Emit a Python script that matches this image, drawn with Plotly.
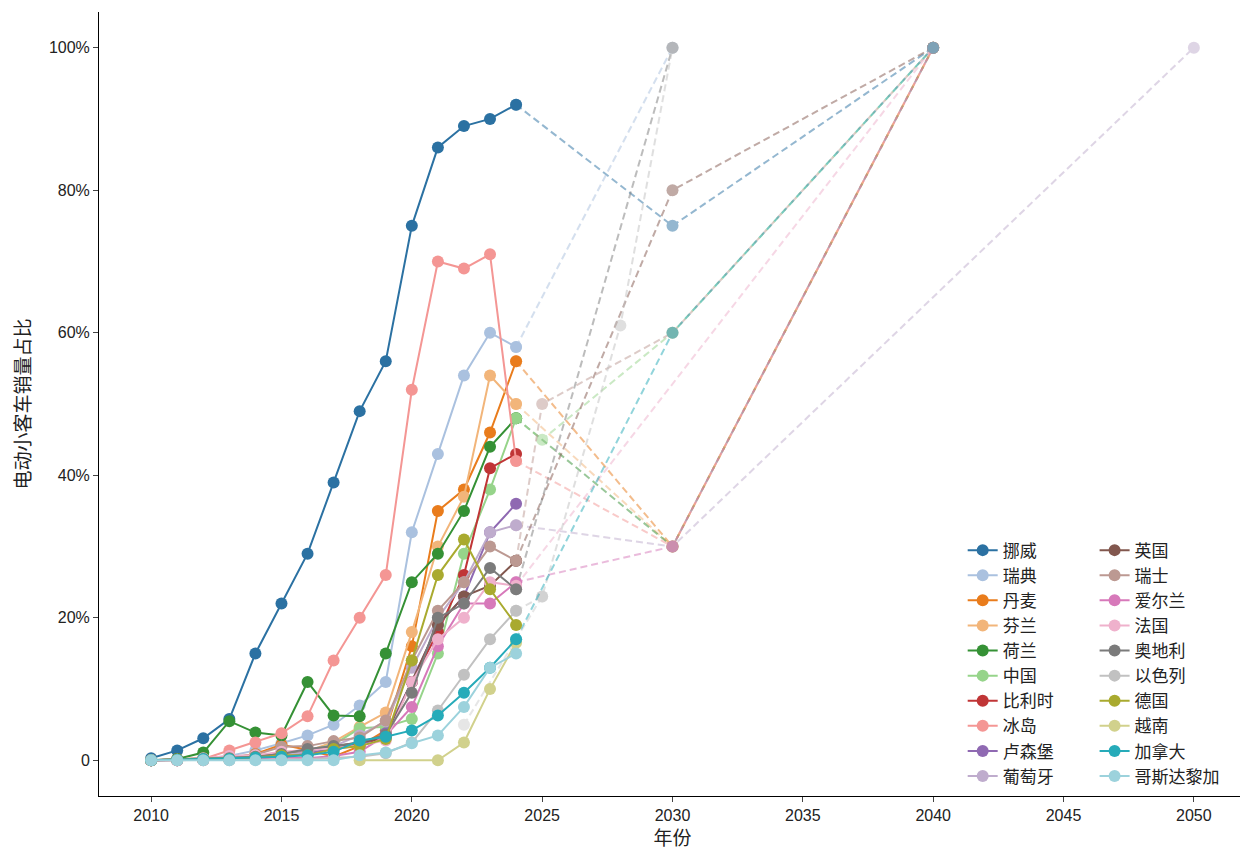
import colorsys
import plotly.graph_objects as go

years = list(range(2010, 2025))

countries = ["挪威", "瑞典", "丹麦", "芬兰", "荷兰", "中国", "比利时", "冰岛", "卢森堡", "葡萄牙",
             "英国", "瑞士", "爱尔兰", "法国", "奥地利", "以色列", "德国", "越南", "加拿大", "哥斯达黎加"]

base_colors = ["#1f77b4", "#aec7e8", "#ff7f0e", "#ffbb78", "#2ca02c", "#98df8a", "#d62728", "#ff9896",
               "#9467bd", "#c5b0d5", "#8c564b", "#c49c94", "#e377c2", "#f7b6d2", "#7f7f7f", "#c7c7c7",
               "#bcbd22", "#dbdb8d", "#17becf", "#9edae5"]

# actual EV share of new passenger car sales (%), 2010-2024
norway      = [0.3, 1.4, 3.1, 5.8, 15, 22, 29, 39, 49, 56, 75, 86, 89, 90, 92]
sweden      = [0, 0.1, 0.3, 0.6, 1.4, 2.4, 3.5, 5.0, 7.7, 11, 32, 43, 54, 60, 58]
denmark     = [0, 0.2, 0.3, 0.3, 0.9, 2.2, 1.5, 0.5, 2.0, 4.2, 16, 35, 38, 46, 56]
finland     = [0, 0, 0.1, 0.2, 0.5, 0.9, 1.3, 2.6, 4.7, 6.7, 18, 30, 37, 54, 50]
netherlands = [0, 0.2, 1.1, 5.5, 3.9, 3.5, 11, 6.3, 6.2, 15, 25, 29, 35, 44, 48]
china       = [0, 0, 0.1, 0.1, 0.3, 1.0, 1.4, 2.2, 4.5, 4.7, 5.8, 15, 29, 38, 48]
belgium     = [0, 0, 0.1, 0.2, 0.4, 0.7, 1.0, 1.7, 2.3, 3.2, 11, 18, 26, 41, 43]
iceland     = [0, 0, 0.2, 1.4, 2.5, 3.8, 6.2, 14, 20, 26, 52, 70, 69, 71, 42]
luxembourg  = [0, 0, 0.1, 0.2, 0.3, 0.6, 1.0, 1.7, 2.0, 3.8, 11, 19, 23, 32, 36]
portugal    = [0, 0, 0.1, 0.2, 0.5, 0.7, 1.2, 2.0, 3.5, 5.5, 13, 20, 25, 32, 33]
uk          = [0, 0.1, 0.1, 0.2, 0.6, 1.1, 1.4, 1.9, 2.5, 3.2, 11, 19, 23, 24.5, 28]
switzerland = [0, 0.1, 0.2, 0.5, 0.8, 1.9, 2.0, 2.7, 3.2, 5.6, 14, 21, 25, 30, 28]
ireland     = [0, 0, 0, 0.1, 0.3, 0.4, 0.3, 0.6, 1.2, 3.5, 7.5, 16, 22, 22, 25]
france      = [0, 0.1, 0.3, 0.6, 0.7, 1.2, 1.4, 1.7, 2.1, 2.8, 11, 17, 20, 25, 24.5]
austria     = [0, 0.1, 0.2, 0.3, 0.5, 0.9, 1.6, 2.0, 2.5, 3.6, 9.5, 20, 22, 27, 24]
israel      = [0, 0, 0, 0, 0.1, 0.1, 0.2, 0.4, 0.5, 1.0, 2.5, 7, 12, 17, 21]
germany     = [0, 0.1, 0.1, 0.2, 0.4, 0.7, 0.7, 1.6, 2.0, 3.0, 14, 26, 31, 24, 19]
vietnam_years = [2018, 2021, 2022, 2023, 2024]
vietnam     = [0, 0, 2.5, 10, 16.5]
canada      = [0, 0.1, 0.2, 0.2, 0.4, 0.5, 0.7, 1.2, 2.8, 3.3, 4.2, 6.3, 9.5, 13, 17]
costa_rica  = [0, 0, 0, 0, 0, 0, 0, 0, 0.7, 1.1, 2.4, 3.5, 7.5, 13, 15]

actual_values = [norway, sweden, denmark, finland, netherlands, china, belgium, iceland, luxembourg,
                 portugal, uk, switzerland, ireland, france, austria, israel, germany, vietnam,
                 canada, costa_rica]
actual_years = [years] * 17 + [vietnam_years] + [years, years]

# policy targets (dashed projections)
target_years = [[2030, 2040], [2030], [2030, 2040], [2030, 2040], [2030, 2040], [2025, 2030, 2040],
                [], [2030, 2040], [], [2030, 2050],
                [2030, 2040], [2025, 2030, 2040], [2030, 2040], [2040], [2030],
                [2025, 2028, 2030], [], [], [2030, 2040], []]
target_values = [[75, 100], [100], [30, 100], [30, 100], [30, 100], [45, 60, 100],
                 [], [30, 100], [], [30, 100],
                 [80, 100], [50, 60, 100], [30, 100], [100], [100],
                 [23, 61, 100], [], [], [60, 100], []]
israel_early_target_year = [2022, 2025]
israel_early_target_value = [5, 23]

tick_years = [2010, 2015, 2020, 2025, 2030, 2035, 2040, 2045, 2050]
y_ticks = [0, 20, 40, 60, 80, 100]
y_tick_labels = ["0", "20%", "40%", "60%", "80%", "100%"]


def adjust(hex_color, f=0.82, dl=0.97):
    r, g, b = (int(hex_color[i:i + 2], 16) / 255 for i in (1, 3, 5))
    h, l, s = colorsys.rgb_to_hls(r, g, b)
    r, g, b = colorsys.hls_to_rgb(h, l * dl, s * f)
    return "rgb(%d,%d,%d)" % (round(r * 255), round(g * 255), round(b * 255))


colors = [adjust(c) for c in base_colors]

fig = go.Figure()

# projections first (beneath)
for i, name in enumerate(countries):
    if target_years[i]:
        xs = [actual_years[i][-1]] + target_years[i]
        ys = [actual_values[i][-1]] + target_values[i]
        fig.add_trace(go.Scatter(
            x=xs, y=ys, mode="lines+markers", showlegend=False, hoverinfo="skip",
            line=dict(color=colors[i], width=2, dash="7px,4px"),
            marker=dict(size=12, color=colors[i]), opacity=0.5))
    if name == "以色列":
        fig.add_trace(go.Scatter(
            x=israel_early_target_year, y=israel_early_target_value, mode="lines+markers",
            showlegend=False, hoverinfo="skip",
            line=dict(color=colors[i], width=2, dash="7px,4px"),
            marker=dict(size=12, color=colors[i]), opacity=0.4))

for i, name in enumerate(countries):
    fig.add_trace(go.Scatter(
        x=actual_years[i], y=actual_values[i], mode="lines+markers", name=name,
        line=dict(color=colors[i], width=2),
        marker=dict(size=12, color=colors[i]),
        legend="legend" if i < 10 else "legend2"))

font_fam = "Liberation Sans, Arial, Noto Sans CJK SC"
legend_common = dict(font=dict(family="Noto Sans CJK SC", size=17, color="#222"),
                     bgcolor="rgba(0,0,0,0)", yanchor="top", xanchor="left",
                     tracegroupgap=0, itemwidth=30)

fig.update_layout(
    width=1240, height=842,
    margin=dict(l=91, r=2, t=4, b=54),
    paper_bgcolor="white", plot_bgcolor="white",
    font=dict(family=font_fam, size=16, color="#222"),
    xaxis=dict(range=[2008, 2052], tickvals=tick_years, ticks="outside", ticklen=5,
               showline=True, linecolor="black", linewidth=1, showgrid=False, zeroline=False,
               tickfont=dict(size=16),
               title=dict(text="年份", font=dict(family="Noto Sans CJK SC", size=19), standoff=2)),
    yaxis=dict(range=[-5, 105], tickvals=y_ticks, ticktext=y_tick_labels, ticks="outside",
               ticklen=5, showline=True, linecolor="black", linewidth=1, showgrid=False,
               zeroline=False, tickfont=dict(size=16),
               title=dict(text="电动小客车销量占比", font=dict(family="Noto Sans CJK SC", size=19),
                          standoff=14)),
    legend=dict(x=0.753, y=0.336, **legend_common),
    legend2=dict(x=0.868, y=0.336, **legend_common),
)

fig.write_html("out.html")
